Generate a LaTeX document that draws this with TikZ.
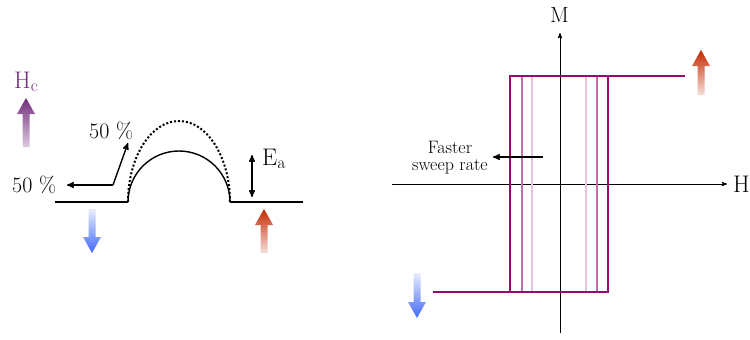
\documentclass[tikz,border=0pt]{standalone}
\usepackage{amsmath}
\usepackage{tikz}
\usetikzlibrary{arrows}
\usetikzlibrary{calc}
\definecolor{loopc}{RGB}{150,10,110}
\definecolor{loopmid}{RGB}{190,110,170}
\definecolor{looplight}{RGB}{230,195,225}
\definecolor{hcc}{RGB}{115,45,125}
\definecolor{spinup}{RGB}{195,40,0}
\definecolor{spindown}{RGB}{65,105,250}
\tikzstyle{lbl} = [inner sep=0pt,anchor=base west,font=\fontsize{22}{24}\selectfont]
\tikzstyle{biglbl} = [inner sep=0pt,anchor=base west,font=\fontsize{24}{26}\selectfont]
\tikzstyle{small} = [inner sep=0pt,align=center,font=\fontsize{18}{17}\selectfont]
\tikzstyle{ln} = [line width=1.4pt]
\tikzstyle{axis} = [line width=0.9pt,->,>=stealth']
% fat vertical arrows: x, base y, tip y, colour, faded colour
\newcommand{\fatarrowup}[5]{%
  \shade[top color=#4,bottom color=#5]
    (#1-3.5,#2) -- (#1-3.5,#3+16) -- (#1-9,#3+16) -- (#1,#3)
    -- (#1+9,#3+16) -- (#1+3.5,#3+16) -- (#1+3.5,#2) -- cycle;}
\newcommand{\fatarrowdown}[5]{%
  \shade[top color=#5,bottom color=#4]
    (#1-3.5,#2) -- (#1-3.5,#3-16) -- (#1-9,#3-16) -- (#1,#3)
    -- (#1+9,#3-16) -- (#1+3.5,#3-16) -- (#1+3.5,#2) -- cycle;}

\begin{document}
\begin{tikzpicture}[x=1pt,y=-1pt]
\useasboundingbox (0,0) rectangle (750,340);

%% energy barrier
\draw[ln] (55,202) coordinate (bl) -- (128,202) coordinate (b1);
\draw[ln] (230,202) coordinate (b2) -- (303,202) coordinate (br);
\draw[ln] (b1) arc[start angle=180,end angle=0,x radius=51pt,y radius=51pt];
\draw[line width=2pt,dotted] (b1) arc[start angle=180,end angle=0,x radius=51pt,y radius=81pt];

\draw(12,192) node[lbl] (pl) {50 \%};
\draw(89,138) node[lbl] (pu) {50 \%};
\coordinate (corner) at (113,185);
\draw[ln,->,>=stealth'] (corner) -- (67,185);
\draw[ln,->,>=stealth'] (corner) -- (128,143);

\draw[ln,<->,>=stealth'] (252,155) coordinate (ea1) -- (252,197) coordinate (ea2);
\draw(262,165) node[biglbl] (Ea) {E$_\mathrm{a}$};

\draw(14,88) node[biglbl,text=hcc] (Hc) {H$_\mathrm{c}$};
\fatarrowup{26}{147}{98}{hcc}{hcc!25}
\fatarrowdown{92}{209}{253}{spindown}{spindown!12}
\fatarrowup{264}{253}{209}{spinup}{spinup!15}

%% hysteresis loop
\draw[axis] (560,333) coordinate (m0) -- (560,33) coordinate (m1);
\draw[axis] (392,184) coordinate (h0) -- (727,184) coordinate (h1);
\draw(550,22) node[lbl] (M) {M};
\draw(733,192) node[biglbl] (H) {H};

\draw[line width=2pt,looplight] (532,76) -- (532,292);
\draw[line width=2pt,looplight] (586,76) -- (586,292);
\draw[line width=2pt,loopmid] (522,76) -- (522,292);
\draw[line width=2pt,loopmid] (597,76) -- (597,292);
\draw[line width=2pt,loopc] (433,292) -- (608,292) -- (608,76) -- (685,76);
\draw[line width=2pt,loopc] (608,76) -- (510,76) -- (510,292);

\draw(450,158) node[small] (fs) {Faster\\sweep rate};
\draw[ln,->,>=stealth'] (543,157) -- (493,157);

\fatarrowup{701}{95}{50}{spinup}{spinup!15}
\fatarrowdown{417}{273}{318}{spindown}{spindown!12}

\end{tikzpicture}
\end{document}
